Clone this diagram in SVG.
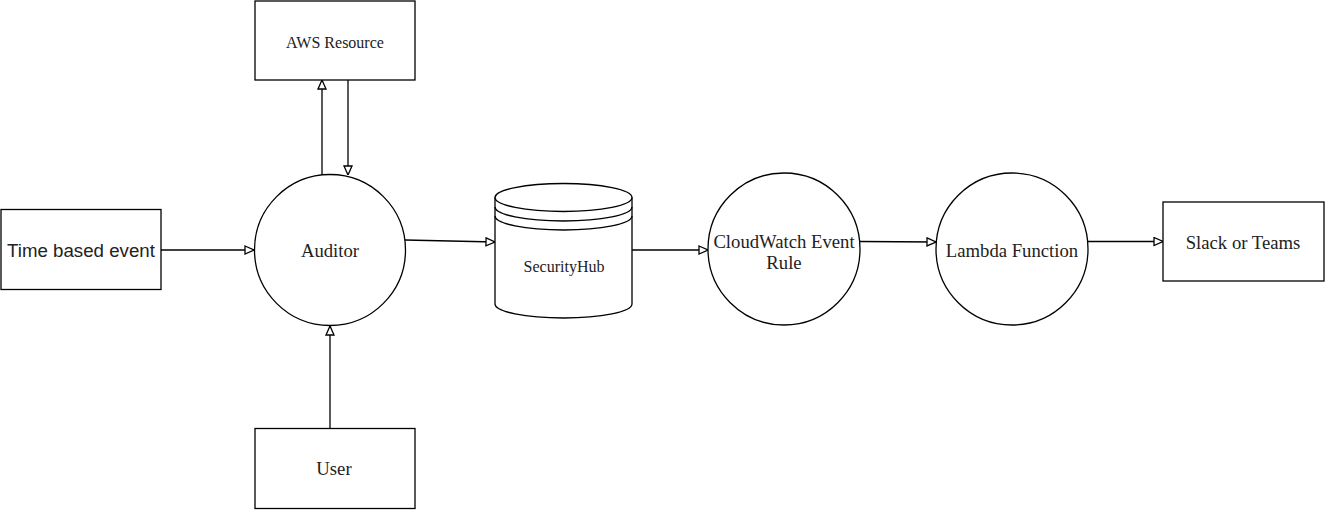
<svg xmlns="http://www.w3.org/2000/svg" width="1325" height="511" viewBox="0 0 1325 511">
<style>
.shape{fill:#fff;stroke:#000;stroke-width:1.3}
.conn{fill:none;stroke:#000;stroke-width:1.3}
.serif{font-family:"Liberation Serif","Times New Roman",serif;fill:#222;text-anchor:middle;dominant-baseline:central}
.sans{font-family:"Liberation Sans",Arial,sans-serif;fill:#222;text-anchor:middle;dominant-baseline:central}
.big{font-size:18.7px}
.small{font-size:16px}
</style>
<defs>
<marker id="arr" viewBox="0 0 10 10" refX="10" refY="5" markerWidth="10" markerHeight="10" markerUnits="userSpaceOnUse" orient="auto">
<path d="M1,1 L10,5 L1,9 Z" fill="#fff" stroke="#000" stroke-width="1.3"/>
</marker>
</defs>
<rect width="1325" height="511" fill="#fff"/>
<g id="connectors">
<line class="conn" x1="322" y1="175" x2="322" y2="80" marker-end="url(#arr)"/>
<line class="conn" x1="348" y1="80" x2="348" y2="175" marker-end="url(#arr)"/>
<line class="conn" x1="161" y1="250" x2="254" y2="250" marker-end="url(#arr)"/>
<line class="conn" x1="330" y1="428" x2="330" y2="326" marker-end="url(#arr)"/>
<line class="conn" x1="405" y1="240" x2="495" y2="242" marker-end="url(#arr)"/>
<line class="conn" x1="632" y1="250" x2="708" y2="250" marker-end="url(#arr)"/>
<line class="conn" x1="860" y1="241.5" x2="936" y2="242" marker-end="url(#arr)"/>
<line class="conn" x1="1088" y1="241.5" x2="1163" y2="241.5" marker-end="url(#arr)"/>
</g>
<g id="aws-resource">
<rect class="shape" x="255" y="1" width="160" height="79"/>
<text class="serif small" x="335" y="42">AWS Resource</text>
</g>
<g id="time-event">
<rect class="shape" x="1" y="209.5" width="160" height="80"/>
<text class="sans big" x="81" y="250">Time based event</text>
</g>
<g id="auditor">
<circle class="shape" cx="330" cy="250" r="75.5"/>
<text class="serif big" x="330" y="250">Auditor</text>
</g>
<g id="user">
<rect class="shape" x="255" y="428.5" width="160" height="80"/>
<text class="serif big" x="334" y="468">User</text>
</g>
<g id="securityhub">
<path class="shape" d="M495,197.5 A68.5,14 0 0 1 632,197.5 L632,304 A68.5,14 0 0 1 495,304 Z"/>
<path class="conn" d="M495,197.5 A68.5,14 0 0 0 632,197.5 M495,207 A68.5,14 0 0 0 632,207 M495,216 A68.5,14 0 0 0 632,216"/>
<text class="serif small" x="564" y="266">SecurityHub</text>
</g>
<g id="cloudwatch">
<circle class="shape" cx="784" cy="249" r="76"/>
<text class="serif big" x="784" y="241">CloudWatch Event</text>
<text class="serif big" x="784" y="262">Rule</text>
</g>
<g id="lambda">
<circle class="shape" cx="1012" cy="249" r="76"/>
<text class="serif big" x="1012" y="250">Lambda Function</text>
</g>
<g id="slack">
<rect class="shape" x="1163" y="202" width="161" height="79"/>
<text class="serif big" x="1243" y="242">Slack or Teams</text>
</g>
</svg>
